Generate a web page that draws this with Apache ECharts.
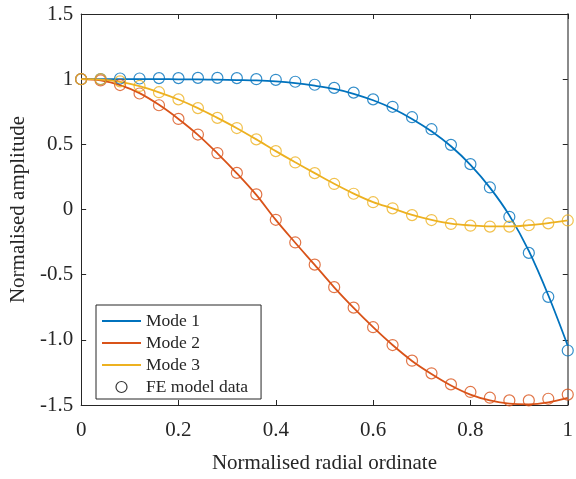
<!DOCTYPE html>
<html>
<head>
<meta charset="utf-8">
<script src="https://cdn.jsdelivr.net/npm/echarts@6/dist/echarts.min.js"></script>
<style>
  html, body { margin: 0; padding: 0; background: #fff; }
  #chart { width: 576px; height: 479px; }
</style>
</head>
<body>
<div id="chart"></div>
<script>
// radial ordinate of the sample points
const radial = [0, 0.04, 0.08, 0.12, 0.16, 0.2, 0.24, 0.28, 0.32, 0.36, 0.4, 0.44, 0.48,
  0.52, 0.56, 0.6, 0.64, 0.68, 0.72, 0.76, 0.8, 0.84, 0.88, 0.92, 0.96, 1];

// analytical mode shapes
const mode1 = [1, 1, 1, 1, 1, 0.999, 0.998, 0.996, 0.993, 0.99, 0.983, 0.97, 0.95,
  0.925, 0.888, 0.838, 0.775, 0.695, 0.6, 0.485, 0.343, 0.168, -0.045, -0.318, -0.658, -1.045];
const mode2 = [1, 0.99, 0.955, 0.893, 0.803, 0.695, 0.573, 0.431, 0.278, 0.112, -0.08, -0.255,
  -0.425, -0.597, -0.755, -0.903, -1.04, -1.162, -1.262, -1.35, -1.42, -1.465, -1.49, -1.495, -1.48, -1.445];
const mode3 = [1, 0.997, 0.98, 0.946, 0.899, 0.844, 0.778, 0.703, 0.624, 0.538, 0.448, 0.362,
  0.279, 0.197, 0.122, 0.057, 0.008, -0.042, -0.08, -0.108, -0.122, -0.13, -0.13, -0.12, -0.104, -0.084];

// FE model data
const fe1 = [1, 1, 1.005, 1.005, 1.008, 1.008, 1.01, 1.01, 1.008, 1, 0.995, 0.98, 0.957,
  0.933, 0.897, 0.845, 0.788, 0.708, 0.616, 0.496, 0.348, 0.169, -0.056, -0.333, -0.67, -1.082];
const fe2 = [1, 0.99, 0.955, 0.89, 0.8, 0.695, 0.575, 0.433, 0.281, 0.116, -0.079, -0.253,
  -0.423, -0.596, -0.753, -0.903, -1.04, -1.16, -1.257, -1.342, -1.4, -1.444, -1.465, -1.465, -1.452, -1.42];
const fe3 = [1, 1, 0.983, 0.948, 0.9, 0.845, 0.778, 0.703, 0.625, 0.538, 0.448, 0.361,
  0.279, 0.196, 0.121, 0.056, 0.009, -0.043, -0.081, -0.111, -0.124, -0.131, -0.131, -0.121, -0.106, -0.084];

const xTicks = { '0': '0', '0.2': '0.2', '0.4': '0.4', '0.6': '0.6', '0.8': '0.8', '1': '1' };
const yTicks = { '1.5': '1.5', '1': '1', '0.5': '0.5', '0': '0', '-0.5': '-0.5', '-1': '-1.0', '-1.5': '-1.5' };

const colors = ['#0072BD', '#D95319', '#EDB120'];
const ink = '#262626';
const serif = '"Liberation Serif", "DejaVu Serif", serif';
const lineIcon = 'path://M0,0L40,0L40,2L0,2Z';

const pairs = ys => radial.map((x, i) => [x, ys[i]]);
const key = v => String(Math.round(v * 100) / 100);

const lineSeries = (name, ys, color) => ({
  name: name,
  type: 'line',
  data: pairs(ys),
  symbol: 'none',
  smooth: 0.35,
  lineStyle: { color: color, width: 1.8 },
  itemStyle: { color: color },
  z: 2
});

const feSeries = (ys, color) => ({
  name: ys ? undefined : 'FE model data',
  type: 'scatter',
  data: ys ? pairs(ys) : [],
  symbol: 'circle',
  symbolSize: 11,
  itemStyle: { color: 'rgba(0,0,0,0)', borderColor: color, borderWidth: 1.2 },
  z: 3
});

const edge = {
  axisLine: { show: true, onZero: false, lineStyle: { color: ink, width: 1 } },
  axisTick: { show: true, inside: true, length: 5, lineStyle: { color: ink } },
  splitLine: { show: false }
};

let myChart = echarts.init(document.getElementById('chart'));
myChart.setOption({
  animation: false,
  grid: { left: 79, right: 2, top: 14, bottom: 64 },
  legend: {
    orient: 'vertical',
    left: 96,
    top: 305,
    data: [
      { name: 'Mode 1', icon: lineIcon, itemStyle: { borderWidth: 0 } },
      { name: 'Mode 2', icon: lineIcon, itemStyle: { borderWidth: 0 } },
      { name: 'Mode 3', icon: lineIcon, itemStyle: { borderWidth: 0 } },
      { name: 'FE model data', icon: 'circle' }
    ],
    itemWidth: 39,
    itemHeight: 11,
    itemGap: 4,
    padding: [7, 13, 3, 6],
    backgroundColor: '#fff',
    borderColor: ink,
    borderWidth: 1,
    borderRadius: 0,
    selectedMode: false,
    itemStyle: { borderWidth: 1.2 },
    textStyle: { fontFamily: serif, fontSize: 17.5, color: ink, lineHeight: 18, padding: [0, 0, 0, 0] }
  },
  xAxis: [
    Object.assign({
      type: 'value', min: 0, max: 1, interval: 0.2, position: 'bottom',
      name: 'Normalised radial ordinate', nameLocation: 'middle', nameGap: 48,
      nameTextStyle: { fontFamily: serif, fontSize: 21, color: ink },
      axisLabel: { fontFamily: serif, fontSize: 21, color: ink, margin: 15,
        formatter: v => xTicks[key(v)] }
    }, edge),
    Object.assign({
      type: 'value', min: 0, max: 1, interval: 0.2, position: 'top',
      axisLabel: { show: false }
    }, edge)
  ],
  yAxis: [
    Object.assign({
      type: 'value', min: -1.5, max: 1.5, interval: 0.5, position: 'left',
      name: 'Normalised amplitude', nameLocation: 'middle', nameGap: 39,
      nameTextStyle: { fontFamily: serif, fontSize: 21, color: ink },
      axisLabel: { fontFamily: serif, fontSize: 21, color: ink, margin: 8,
        formatter: v => yTicks[key(v)] }
    }, edge),
    Object.assign({
      type: 'value', min: -1.5, max: 1.5, interval: 0.5, position: 'right',
      axisLine: { show: true, onZero: false, lineStyle: { color: '#8a8a8a', width: 2 } },
      axisTick: { show: true, inside: true, length: 5, lineStyle: { color: ink } },
      splitLine: { show: false },
      axisLabel: { show: false }
    })
  ],
  series: [
    lineSeries('Mode 1', mode1, colors[0]),
    lineSeries('Mode 2', mode2, colors[1]),
    lineSeries('Mode 3', mode3, colors[2]),
    feSeries(fe1, colors[0]),
    feSeries(fe2, colors[1]),
    feSeries(fe3, colors[2]),
    feSeries(null, '#000')
  ]
});
</script>
</body>
</html>
